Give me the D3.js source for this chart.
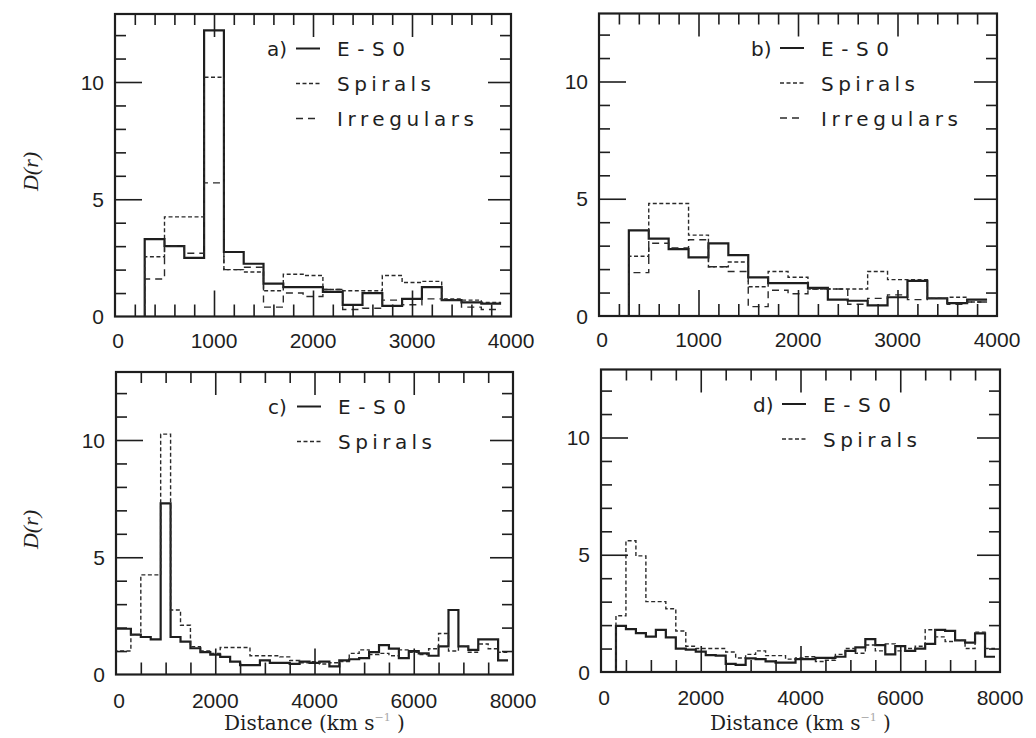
<!DOCTYPE html>
<html><head><meta charset="utf-8">
<script src="https://cdn.jsdelivr.net/npm/d3@7"></script>
<style>body{margin:0;background:#fff}svg{display:block}</style>
</head><body>
<svg id="chart" width="1036" height="738"></svg>
<script>
// ---------- DATA ----------
const binStartsAB = [300,500,700,900,1100,1300,1500,1700,1900,2100,2300,2500,2700,2900,3100,3300,3500,3700];
const aESO  = [3.3,3.0,2.5,12.2,2.75,2.25,1.4,1.25,1.25,1.05,0.5,1.0,0.45,0.75,1.25,0.7,0.6,0.55];
const aSpir = [2.55,4.25,4.25,10.2,2.0,1.9,1.1,1.8,1.75,1.15,1.1,1.1,1.75,1.45,1.5,0.75,0.7,0.6];
const aIrr  = [1.6,3.0,2.7,5.7,2.0,2.1,0.4,1.0,0.85,1.15,0.3,0.35,0.7,0.5,0.75,0.7,0.4,0.3];
const bESO  = [3.65,3.3,2.85,2.5,3.1,2.6,1.65,1.4,1.4,1.2,0.7,0.65,0.45,0.8,1.5,0.75,0.55,0.7];
const bSpir = [2.55,4.8,4.8,3.45,2.1,2.3,1.25,1.9,1.65,1.15,1.15,1.15,1.9,1.55,1.55,0.75,0.8,0.6];
const bIrr  = [1.85,3.1,2.9,3.25,2.1,1.9,0.4,1.1,0.95,1.15,1.15,0.5,0.75,0.9,0.7,0.75,0.5,0.6];

const binStartsCD = [-100,100,300,500,700,900,1100,1300,1500,1700,1900,2100,2300,2500,2700,2900,3100,3300,3500,3700,
                     3900,4100,4300,4500,4700,4900,5100,5300,5500,5700,5900,6100,6300,6500,6700,6900,7100,7300,7500,7700];
const cESO  = [1.95,1.95,1.7,1.6,1.5,7.3,1.6,1.4,1.12,0.95,0.85,0.75,0.55,0.4,0.4,0.6,0.5,0.5,0.45,0.55,
               0.5,0.55,0.35,0.6,0.65,0.7,0.95,1.25,1.1,0.7,1.0,0.9,0.8,1.2,2.75,1.2,1.05,1.5,1.5,0.6];
const cSpir = [1.0,1.0,1.7,4.25,4.25,10.25,2.75,2.1,1.19,1.0,0.9,1.15,1.15,1.15,0.8,0.8,0.8,0.75,0.6,0.5,
               0.55,0.45,0.5,0.55,0.9,1.05,0.85,0.9,0.8,1.05,0.95,0.85,1.1,1.75,1.0,1.2,0.95,1.3,1.1,0.95];
const dESO  = [null,null,1.97,1.83,1.66,1.51,1.8,1.48,1.0,0.95,0.87,0.72,0.7,0.35,0.3,0.58,0.55,0.45,0.4,0.4,
               0.55,0.55,0.6,0.6,0.65,0.9,1.05,1.4,1.15,0.75,1.1,0.9,1.0,1.2,1.8,1.75,1.35,1.25,1.65,0.65];
const dSpir = [null,null,2.4,5.6,4.95,3.0,3.0,2.7,1.75,1.1,1.0,1.0,1.0,0.85,0.6,0.75,0.9,0.7,0.7,0.55,
               0.6,0.65,0.45,0.5,0.75,1.0,0.8,1.15,0.9,1.2,0.9,1.0,1.1,1.8,1.5,1.3,1.35,1.0,1.7,1.0];

const xTickLabelsAB = [0,1000,2000,3000,4000];
const xTickLabelsCD = [0,2000,4000,6000,8000];
const yTickLabels = [0,5,10];
const seriesNames = ["E-S0","Spirals","Irregulars"];
const panelLetters = ["a)","b)","c)","d)"];
const xTitle = "Distance (km s";
const yTitle = "D(r)";

// ---------- LAYOUT ----------
const BIN = 200, YMAX = 12.9, PXU = 23.45;
const ink = "#1e1e1e";
const svg = d3.select("#chart");
svg.append("rect").attr("width",1036).attr("height",738).attr("fill","#fff");

const panels = [
  {L:panelLetters[0], x0:115, x1:511, yb:316.5, dom:4000, minor:200, major:1000, labels:xTickLabelsAB,
   bins:binStartsAB, series:[aESO,aSpir,aIrr], title:false},
  {L:panelLetters[1], x0:599, x1:997, yb:316, dom:4000, minor:200, major:1000, labels:xTickLabelsAB,
   bins:binStartsAB, series:[bESO,bSpir,bIrr], title:false},
  {L:panelLetters[2], x0:116, x1:513, yb:674.5, dom:8000, minor:500, major:2000, labels:xTickLabelsCD,
   bins:binStartsCD, series:[cESO,cSpir], title:true},
  {L:panelLetters[3], x0:601, x1:1000, yb:672, dom:8000, minor:500, major:2000, labels:xTickLabelsCD,
   bins:binStartsCD, series:[dESO,dSpir], title:true}
];
const styles = [
  {w:2.2, dash:null, c:ink},
  {w:1.4, dash:"4,2.5", c:"#2a2a2a"},
  {w:1.4, dash:"7,5", c:"#2a2a2a"}
];
const legendLen = {"E-S0":68,"Spirals":94,"Irregulars":137};

panels.forEach((p,pi)=>{
  const x = d3.scaleLinear().domain([0,p.dom]).range([p.x0,p.x1]);
  const y = d3.scaleLinear().domain([0,YMAX]).range([p.yb, p.yb - YMAX*PXU]);
  const g = svg.append("g");
  const clipId = "clip"+pi;
  svg.append("clipPath").attr("id",clipId).append("rect")
    .attr("x",x(0)).attr("y",y(YMAX)).attr("width",x(p.dom)-x(0)).attr("height",y(0)-y(YMAX));

  // histograms
  p.series.forEach((vals,si)=>{
    const pts=[]; let started=false;
    p.bins.forEach((s,i)=>{
      const v = vals[i]; if(v==null) return;
      if(!started){pts.push([s,0]); started=true;}
      pts.push([s,v],[s+BIN,v]);
    });
    const line = d3.line().x(d=>x(d[0])).y(d=>y(d[1]));
    g.append("path").attr("d",line(pts)).attr("clip-path",`url(#${clipId})`)
      .attr("fill","none").attr("stroke",styles[si].c).attr("stroke-width",styles[si].w)
      .attr("stroke-dasharray",styles[si].dash).attr("stroke-linejoin","miter");
  });

  // ticks via d3 axes
  const minorX = d3.range(0,p.dom+1,p.minor).filter(v=>v%p.major!==0);
  const majorX = d3.range(p.major,p.dom,p.major);
  const minorY = d3.range(1,13).filter(v=>v%5!==0);
  const majorY = [5,10];
  function ax(gen, vals, size, tr){
    const a = g.append("g").attr("transform",tr).call(gen.tickValues(vals).tickSize(-size).tickFormat(""));
    a.select(".domain").remove();
    a.selectAll("line").attr("stroke",ink).attr("stroke-width",1.6);
  }
  ax(d3.axisBottom(x), minorX, 12, `translate(0,${y(0)})`);
  ax(d3.axisBottom(x), majorX, 26, `translate(0,${y(0)})`);
  ax(d3.axisTop(x), minorX, 11, `translate(0,${y(YMAX)})`);
  ax(d3.axisTop(x), majorX, 23, `translate(0,${y(YMAX)})`);
  ax(d3.axisLeft(y), minorY, 11, `translate(${x(0)},0)`);
  ax(d3.axisLeft(y), majorY, 27, `translate(${x(0)},0)`);
  ax(d3.axisRight(y), minorY, 11, `translate(${x(p.dom)},0)`);
  ax(d3.axisRight(y), majorY, 23, `translate(${x(p.dom)},0)`);

  // frame
  g.append("rect").attr("x",x(0)).attr("y",y(YMAX)).attr("width",x(p.dom)-x(0)).attr("height",y(0)-y(YMAX))
    .attr("fill","none").attr("stroke",ink).attr("stroke-width",2.2);

  const font = "'Liberation Sans', Arial, sans-serif";
  const lfont = "'DejaVu Sans', sans-serif";
  // tick labels
  g.selectAll(".xl").data(p.labels).enter().append("text")
    .attr("x",d=>x(d)+(d===0?3:0)).attr("y",p.yb+(p.title?33:31)).attr("text-anchor","middle")
    .attr("font-family",font).attr("font-size",21).attr("fill",ink).text(d=>d);
  g.selectAll(".yl").data(yTickLabels).enter().append("text")
    .attr("x",x(0)-11).attr("y",d=>y(d)+7.5).attr("text-anchor","end")
    .attr("font-family",font).attr("font-size",21).attr("fill",ink).text(d=>d);

  // legend
  const ly0 = p.yb - 268;
  g.append("text").attr("x",p.x0+152).attr("y",ly0+7.5).attr("font-family",lfont).attr("font-size",20)
    .attr("fill",ink).text(p.L);
  p.series.forEach((vals,si)=>{
    const yy = ly0 + si*35;
    g.append("line").attr("x1",p.x0+181).attr("x2",p.x0+205).attr("y1",yy).attr("y2",yy)
      .attr("stroke",styles[si].c).attr("stroke-width",si===0?2:1.4).attr("stroke-dasharray",styles[si].dash);
    g.append("text").attr("x",p.x0+222).attr("y",yy+7.5).attr("font-family",lfont).attr("font-size",20)
      .attr("fill",ink).attr("textLength",legendLen[seriesNames[si]]).attr("lengthAdjust","spacing")
      .text(seriesNames[si]);
  });

  // x title
  if(p.title){
    const t = g.append("text").attr("x",(x(0)+x(p.dom))/2).attr("y",730).attr("text-anchor","middle")
      .attr("font-family","'DejaVu Serif', serif").attr("font-size",20).attr("fill",ink);
    t.append("tspan").text(xTitle);
    t.append("tspan").attr("dy",-9).attr("font-size",11).attr("fill","#aaa").text("−1");
    t.append("tspan").attr("dy",9).text(" )");
  }
  // y title
  if(pi%2===0){
    svg.append("text").attr("transform",`translate(38,${p.yb-145}) rotate(-90)`).attr("text-anchor","middle")
      .attr("font-family","'Liberation Serif', serif").attr("font-style","italic").attr("font-size",22)
      .attr("fill",ink).text(yTitle);
  }
});
</script>
</body></html>
